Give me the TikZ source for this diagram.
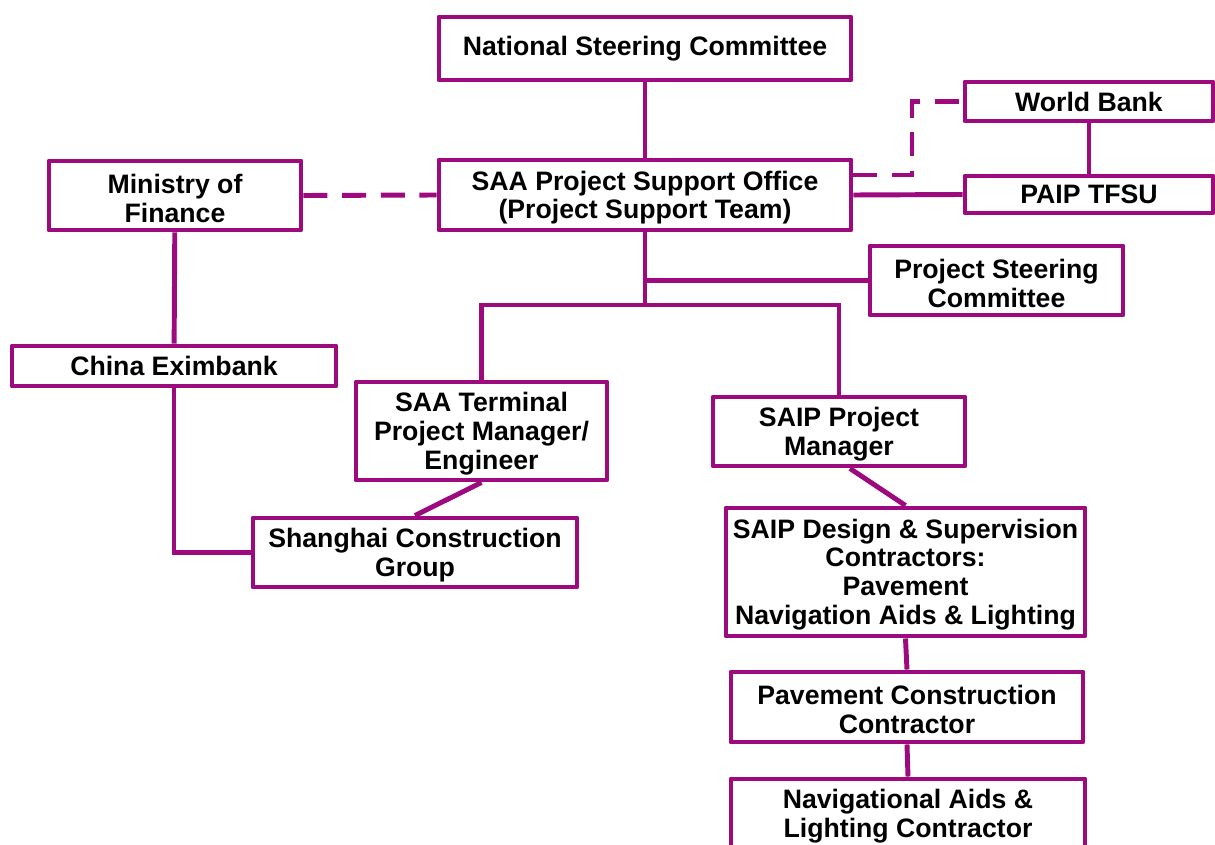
\documentclass[tikz,border=0pt]{standalone}
\usepackage{fontspec}
\setmainfont{Liberation Sans}
\usetikzlibrary{calc}
\definecolor{orgline}{RGB}{156,10,126}
% zero-width strut that lowers a multi-line text block slightly
\newcommand{\boxstrut}{\rule{0pt}{18.4pt}}
\begin{document}
\begin{tikzpicture}[x=0.75pt,y=-0.75pt,
  orgbox/.style 2 args={draw=orgline, line width=3.7pt, fill=white, inner sep=0pt,
    minimum width=#1*0.75pt, minimum height=#2*0.75pt,
    align=center, font=\fontsize{20}{21.7}\selectfont\bfseries, line join=round},
  link/.style={draw=orgline, line width=3.7pt},
  dotted link/.style={link, dash pattern=on 18pt off 11pt}]
\useasboundingbox (0,0) rectangle (1215,845);
\clip (0,0) rectangle (1215,845);
\fill[white] (0,0) rectangle (1215,845);

\coordinate (bar) at (645,305);
\coordinate (wbturn) at (912,175);

% boxes
\node[orgbox={412}{63}] (nsc) at (645,48.5) {National Steering Committee};
\node[orgbox={412}{70}] (pso) at (645,195) {\boxstrut SAA Project Support Office\\(Project Support Team)};
\node[orgbox={248}{39}] (wb) at (1089,101.5) {World Bank};
\node[orgbox={248}{37}] (paip) at (1089,194.5) {PAIP TFSU};
\node[orgbox={252}{69}] (mof) at (175,195.5) {\boxstrut Ministry of\\Finance};
\node[orgbox={324}{40}] (exim) at (174,366) {China Eximbank};
\node[orgbox={253}{69}] (psc) at (996.5,280.5) {\boxstrut Project Steering\\Committee};
\node[orgbox={251}{98}] (saa) at (481.5,431) {\boxstrut SAA Terminal\\Project Manager/\\Engineer};
\node[orgbox={252}{69}] (saip) at (839,431.5) {\boxstrut SAIP Project\\Manager};
\node[orgbox={324}{69}] (sh) at (415,552.5) {\boxstrut Shanghai Construction\\Group};
\node[orgbox={359}{128}] (ds) at (905.5,572) {\boxstrut SAIP Design \& Supervision\\Contractors:\\Pavement\\Navigation Aids \& Lighting};
\node[orgbox={352}{70}] (pav) at (907,707) {\boxstrut Pavement Construction\\Contractor};
\node[orgbox={354}{69}] (nav) at (908,813.5) {\boxstrut Navigational Aids \&\\Lighting Contractor};

% solid connectors
\draw[link] (nsc) -- (pso);
\draw[link] (pso.south) -- (bar);
\draw[link] (saa.north) |- (bar) -| (saip.north);
\draw[link] (pso.south |- psc.west) -- (psc.west);
\draw[link] (pso.east) -- (paip.west);
\draw[link] (wb) -- (paip);
\draw[link] (mof) -- (exim);
\draw[link] (exim.south) |- (sh.west);
\draw[link] (saa.south) -- (sh.north);
\draw[link] ($(saip.south)+(11,0)$) -- (ds.north);
\draw[link] (ds.south) -- (pav.north);
\draw[link] (pav.south) -- (nav.north);

% dashed connectors
\draw[dotted link] (mof.east) -- (pso.west);
\draw[dotted link] (wbturn -| pso.east) -- (wbturn) |- (wb.west);
\end{tikzpicture}
\end{document}
